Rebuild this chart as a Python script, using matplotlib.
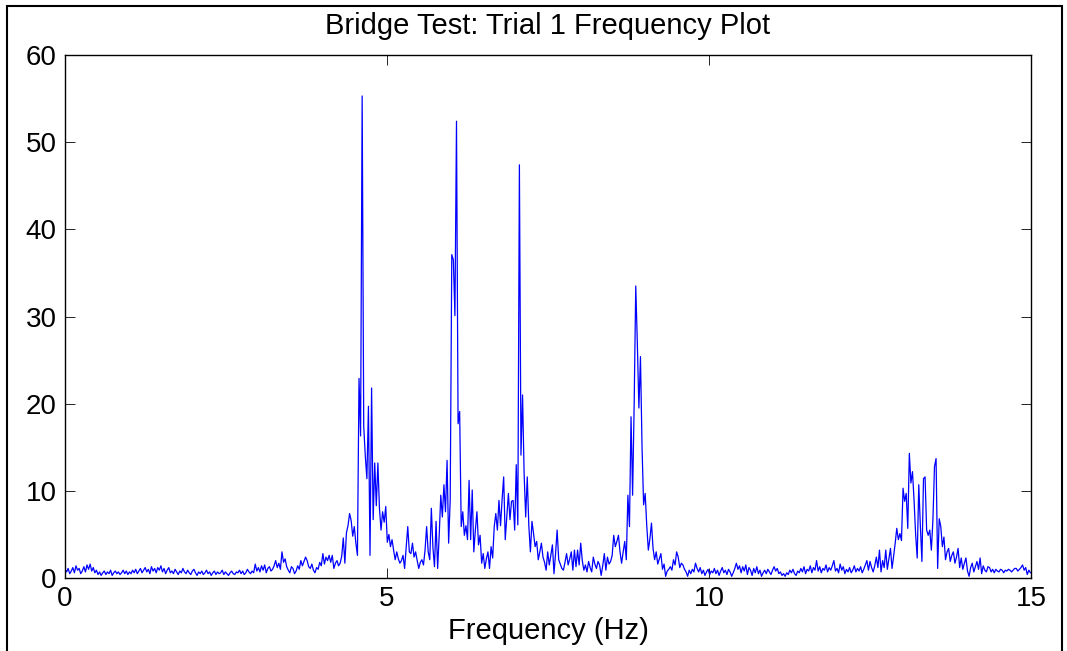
import numpy as np
import matplotlib.pyplot as plt
from matplotlib.patches import Rectangle

plt.rcParams['font.family'] = ['Liberation Sans', 'DejaVu Sans']

# FFT bin spacing: sampled at 100 Hz, 4096-point transform
fs = 100.0
nfft = 4096
df = fs / nfft

# spectrum magnitude, one value per bin, split into frequency bands
amp_0_4hz = [
    1.0, 0.7, 1.1, 0.5, 0.8, 1.2, 0.6, 1.4, 0.9, 1.1, 0.5, 0.8, 1.3, 0.7, 1.5, 1.0, 1.6, 0.8, 1.2, 0.6,
    0.9, 0.4, 0.7, 0.3, 0.6, 0.8, 0.4, 0.7, 0.5, 0.9, 0.3, 0.6, 0.8, 0.5, 0.7, 0.4, 0.6, 0.9, 0.5, 0.8,
    0.4, 0.7, 0.5, 0.9, 0.6, 1.0, 0.5, 0.8, 1.1, 0.6, 0.9, 1.2, 0.7, 1.0, 0.5, 1.3, 0.8, 1.1, 0.6, 1.2,
    0.9, 1.4, 0.7, 1.1, 0.5, 0.9, 1.2, 0.6, 0.8, 0.5, 1.0, 0.7, 0.4, 0.8, 0.6, 1.1, 0.7, 0.5, 0.9, 0.6,
    0.4, 0.8, 1.0, 0.6, 0.3, 0.7, 0.5, 0.8, 0.4, 0.6, 0.9, 0.5, 0.7, 0.3, 0.6, 0.8, 0.4, 0.7, 0.5, 0.6,
    0.9, 0.4, 0.7, 0.5, 0.3, 0.6, 0.8, 0.5, 0.4, 0.7, 0.6, 0.9, 0.5, 0.8, 0.4, 0.6, 1.0, 0.7, 0.5, 0.8,
    0.6, 1.6, 0.8, 1.2, 0.7, 1.4, 0.9, 1.5, 0.6, 1.1, 1.3, 0.8, 1.0, 1.4, 2.0, 1.2, 1.7, 1.0, 3.0, 1.8,
    2.2, 1.3, 0.9, 0.6, 1.3, 1.1, 0.5, 0.8, 1.4, 1.0, 2.0, 1.4, 1.9, 2.4, 2.0, 1.3, 1.1, 1.6, 0.9, 0.6,
]
amp_4_7hz = [
    1.2, 1.0, 1.8, 1.4, 2.8, 1.6, 2.4, 2.0, 2.6, 1.8, 2.6, 1.1, 1.7, 2.0, 1.4, 1.7, 2.5, 4.6, 1.7, 5.2,
    6.0, 7.4, 6.6, 4.8, 5.9, 4.0, 2.6, 22.9, 16.3, 55.3, 17.4, 14.0, 11.4, 19.7, 2.6, 21.8, 6.7, 13.2, 8.3, 13.2,
    8.0, 5.5, 7.6, 6.4, 8.2, 4.1, 5.0, 3.6, 4.4, 3.2, 2.1, 3.0, 2.2, 1.7, 2.0, 2.6, 1.1, 3.5, 5.9, 3.0,
    2.8, 4.0, 2.4, 3.0, 2.0, 1.1, 1.8, 2.1, 1.5, 3.2, 5.9, 3.0, 2.1, 8.0, 3.5, 1.3, 6.5, 1.1, 4.9, 9.5,
    7.0, 10.7, 7.6, 13.5, 4.0, 9.0, 37.1, 36.5, 30.1, 52.4, 17.7, 19.1, 5.9, 7.6, 4.9, 6.0, 4.4, 11.2, 4.4, 10.1,
    3.0, 5.5, 7.6, 3.8, 4.9, 1.7, 2.8, 1.1, 2.2, 3.0, 1.1, 3.6, 2.3, 5.9, 7.4, 5.5, 8.9, 6.0, 9.0, 11.6,
    4.4, 7.0, 9.7, 6.7, 8.8, 8.9, 5.5, 13.0, 6.1, 47.4, 14.1, 21.0, 12.0, 7.0, 11.6, 6.0, 3.0, 6.5, 5.1, 3.6,
]
amp_7_10hz = [
    4.2, 2.1, 3.0, 4.0, 2.4, 1.8, 0.9, 3.0, 1.5, 2.6, 3.8, 0.5, 2.8, 5.5, 2.1, 1.6, 1.1, 0.9, 1.8, 2.8,
    1.5, 2.2, 3.0, 0.9, 3.2, 1.3, 3.2, 1.5, 4.0, 2.0, 0.9, 1.5, 0.7, 1.9, 1.2, 0.7, 2.4, 1.6, 1.1, 1.9,
    1.5, 0.3, 1.4, 2.8, 0.9, 2.4, 1.6, 1.9, 2.6, 4.9, 3.6, 4.2, 4.9, 3.0, 1.7, 3.0, 4.2, 2.1, 9.5, 5.9,
    18.5, 9.5, 20.0, 33.5, 27.0, 19.5, 25.4, 15.0, 8.4, 9.7, 6.0, 3.2, 4.5, 6.3, 3.4, 2.1, 3.0, 1.6, 2.2, 2.8,
    1.0, 1.6, 0.2, 0.8, 1.0, 1.3, 0.9, 2.1, 1.5, 3.0, 2.4, 1.2, 1.7, 1.5, 1.0, 0.7, 0.2, 0.9, 0.5, 1.0,
]
amp_10_13hz = [
    0.7, 1.7, 1.1, 0.7, 1.2, 0.5, 0.9, 0.3, 0.7, 1.0, 0.4, 0.8, 0.6, 1.1, 0.5, 0.9, 0.3, 0.8, 1.2, 0.6,
    0.9, 0.4, 1.0, 0.7, 0.2, 0.6, 1.1, 1.7, 1.0, 1.4, 0.6, 1.3, 0.8, 1.5, 0.4, 1.2, 0.9, 0.3, 1.1, 0.6,
    1.3, 0.5, 0.9, 0.2, 0.6, 0.9, 0.5, 1.0, 0.7, 0.4, 0.9, 1.3, 0.8, 1.1, 0.5, 0.7, 0.3, 0.5, 0.2, 0.6,
    0.4, 0.9, 0.6, 1.0, 0.5, 0.3, 0.8, 0.6, 1.1, 0.7, 1.3, 0.5, 1.0, 0.8, 1.4, 0.6, 1.2, 0.9, 2.0, 0.8,
    1.3, 0.6, 1.1, 0.9, 1.5, 0.7, 1.2, 0.9, 1.4, 2.0, 0.8, 1.1, 0.6, 1.6, 0.9, 1.3, 0.5, 1.0, 0.7, 1.2,
    0.6, 0.9, 1.4, 0.7, 1.1, 0.8, 1.3, 0.6, 1.0, 1.5, 2.0, 0.9, 1.9, 1.2, 0.7, 1.4, 2.4, 1.2, 3.2, 0.7,
]
amp_13_15hz = [
    2.0, 1.2, 3.2, 1.0, 2.2, 3.4, 1.1, 2.5, 4.0, 5.7, 4.4, 5.1, 4.3, 10.3, 8.8, 9.7, 5.7, 14.3, 10.9, 12.2,
    8.9, 5.0, 2.3, 10.7, 6.0, 1.9, 11.4, 11.6, 5.5, 4.9, 5.5, 3.2, 6.7, 12.8, 13.7, 1.1, 6.8, 5.9, 3.6, 4.7,
    2.1, 3.0, 3.4, 1.9, 2.6, 3.0, 1.7, 2.4, 3.4, 1.2, 2.3, 1.0, 1.7, 2.3, 0.8, 0.2, 1.2, 1.7, 0.7, 1.3,
    1.9, 1.0, 2.3, 0.5, 1.4, 0.9, 0.7, 1.3, 1.2, 0.7, 1.0, 0.6, 1.0, 0.8, 0.7, 1.0, 0.9, 0.6, 0.9, 0.8,
    1.0, 0.9, 0.7, 0.9, 1.1, 1.1, 0.8, 1.0, 1.2, 1.5, 0.9, 1.2, 0.4, 0.9, 0.6,
]

amp = np.concatenate([amp_0_4hz, amp_4_7hz, amp_7_10hz, amp_10_13hz, amp_13_15hz])
freq = np.arange(len(amp)) * df

fig = plt.figure(figsize=(10.67, 6.51), dpi=100)
ax = fig.add_axes([0.0609, 0.1121, 0.9054, 0.8034])
ax.plot(freq, amp, color='b', linewidth=0.9)

ax.set_xlim(0, 15)
ax.set_ylim(0, 60)
ax.set_xticks([0, 5, 10, 15])
ax.set_yticks(np.arange(0, 61, 10))
ax.tick_params(direction='in', top=True, right=True, length=7, width=0.6,
               labelsize=20, pad=6)
for s in ax.spines.values():
    s.set_linewidth(1.0)

ax.set_title('Bridge Test: Trial 1 Frequency Plot', fontsize=21, pad=15)
ax.set_xlabel('Frequency (Hz)', fontsize=21, labelpad=3)

# border round the whole figure window
fig.patches.append(Rectangle((7 / 1067, -0.05), 1055 / 1067, 1.05 - 5.5 / 651,
                             transform=fig.transFigure, fill=False,
                             edgecolor='k', linewidth=1.5))

fig.savefig('out.png', dpi=100)
